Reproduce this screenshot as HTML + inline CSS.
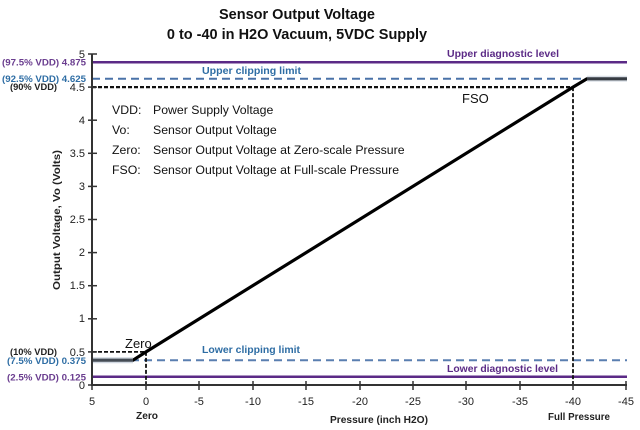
<!DOCTYPE html>
<html><head><meta charset="utf-8"><style>
html,body{margin:0;padding:0;background:#fff;}
svg{display:block;font-family:"Liberation Sans",Arial,sans-serif;}
</style></head><body>
<svg width="640" height="430" viewBox="0 0 640 430" xmlns="http://www.w3.org/2000/svg">
<rect width="640" height="430" fill="#fff"/>
<!-- Title -->
<text x="297" y="19" text-anchor="middle" font-size="14.5" font-weight="bold" fill="#111">Sensor Output Voltage</text>
<text x="297" y="39" text-anchor="middle" font-size="14.5" font-weight="bold" fill="#111">0 to -40 in H2O Vacuum,  5VDC Supply</text>

<!-- reference lines -->
<line x1="92" y1="62.3" x2="627" y2="62.3" stroke="#5b2a86" stroke-width="2.5"/>
<line x1="92" y1="78.8" x2="627" y2="78.8" stroke="#4a72a8" stroke-width="2" stroke-dasharray="8,5"/>
<line x1="92" y1="87.1" x2="573" y2="87.1" stroke="#111" stroke-width="2.2" stroke-dasharray="4,2"/>
<line x1="92" y1="360.2" x2="627" y2="360.2" stroke="#5a7fb0" stroke-width="2" stroke-dasharray="8,5"/>
<line x1="92" y1="376.7" x2="627" y2="376.7" stroke="#5b2a86" stroke-width="2.5"/>
<line x1="92" y1="351.9" x2="146" y2="351.9" stroke="#111" stroke-width="1.8" stroke-dasharray="4,2"/>
<line x1="146" y1="351.9" x2="146" y2="385" stroke="#111" stroke-width="1.8" stroke-dasharray="4,2"/>
<line x1="573" y1="87.1" x2="573" y2="385" stroke="#111" stroke-width="1.8" stroke-dasharray="4,2"/>

<!-- main curve -->
<polyline points="92,360.2 133,360.2 146,351.9 573,87.1 587,78.8 627,78.8" fill="none" stroke="#000" stroke-width="3.2" stroke-linejoin="round"/>
<line x1="92" y1="360.2" x2="133" y2="360.2" stroke="#9aa9bd" stroke-width="6" opacity="0.45"/>
<line x1="587" y1="78.8" x2="627" y2="78.8" stroke="#9aa9bd" stroke-width="6" opacity="0.35"/>

<!-- axes -->
<line x1="92" y1="54" x2="92" y2="386" stroke="#333" stroke-width="2"/>
<line x1="91" y1="385" x2="627" y2="385" stroke="#333" stroke-width="2"/>
<g stroke="#333" stroke-width="1.5">
<line x1="88" y1="54" x2="97" y2="54"/>
<line x1="88" y1="87.1" x2="97" y2="87.1"/>
<line x1="88" y1="120.2" x2="97" y2="120.2"/>
<line x1="88" y1="153.3" x2="97" y2="153.3"/>
<line x1="88" y1="186.4" x2="97" y2="186.4"/>
<line x1="88" y1="219.5" x2="97" y2="219.5"/>
<line x1="88" y1="252.6" x2="97" y2="252.6"/>
<line x1="88" y1="285.7" x2="97" y2="285.7"/>
<line x1="88" y1="318.8" x2="97" y2="318.8"/>
<line x1="88" y1="351.9" x2="97" y2="351.9"/>
<line x1="88" y1="385" x2="97" y2="385"/>
<line x1="92" y1="381" x2="92" y2="390"/>
<line x1="146" y1="381" x2="146" y2="390"/>
<line x1="199" y1="381" x2="199" y2="390"/>
<line x1="253" y1="381" x2="253" y2="390"/>
<line x1="306" y1="381" x2="306" y2="390"/>
<line x1="360" y1="381" x2="360" y2="390"/>
<line x1="413" y1="381" x2="413" y2="390"/>
<line x1="466" y1="381" x2="466" y2="390"/>
<line x1="520" y1="381" x2="520" y2="390"/>
<line x1="573" y1="381" x2="573" y2="390"/>
<line x1="626" y1="381" x2="626" y2="390"/>
</g>

<!-- y tick labels -->
<g font-size="11" fill="#222" text-anchor="end">
<text x="85" y="58">5</text>
<text x="85" y="91">4.5</text>
<text x="85" y="124">4</text>
<text x="85" y="157">3.5</text>
<text x="85" y="190">3</text>
<text x="85" y="223">2.5</text>
<text x="85" y="256">2</text>
<text x="85" y="289">1.5</text>
<text x="85" y="322">1</text>
<text x="85" y="356">0.5</text>
<text x="85" y="389">0</text>
</g>
<g font-size="8.8" font-weight="bold">
<text x="2" y="65.5" fill="#6a3d8f" textLength="84" lengthAdjust="spacingAndGlyphs">(97.5% VDD) 4.875</text>
<text x="2" y="81.8" fill="#2e6da4" textLength="84" lengthAdjust="spacingAndGlyphs">(92.5% VDD) 4.625</text>
<text x="10" y="90" fill="#222" textLength="47" lengthAdjust="spacingAndGlyphs">(90% VDD)</text>
<text x="10" y="355" fill="#222" textLength="47" lengthAdjust="spacingAndGlyphs">(10% VDD)</text>
<text x="7" y="364" fill="#2e6da4" textLength="79" lengthAdjust="spacingAndGlyphs">(7.5% VDD) 0.375</text>
<text x="7" y="380.5" fill="#6a3d8f" textLength="79" lengthAdjust="spacingAndGlyphs">(2.5% VDD) 0.125</text>
</g>

<!-- x tick labels -->
<g font-size="11" fill="#222" text-anchor="middle">
<text x="92" y="405">5</text>
<text x="146" y="405">0</text>
<text x="199" y="405">-5</text>
<text x="253" y="405">-10</text>
<text x="306" y="405">-15</text>
<text x="360" y="405">-20</text>
<text x="413" y="405">-25</text>
<text x="466" y="405">-30</text>
<text x="520" y="405">-35</text>
<text x="573" y="405">-40</text>
<text x="626" y="405">-45</text>
</g>
<g font-size="10" font-weight="bold" fill="#222">
<text x="136" y="419" textLength="22" lengthAdjust="spacingAndGlyphs">Zero</text>
<text x="330" y="423" textLength="98" lengthAdjust="spacingAndGlyphs">Pressure (inch H2O)</text>
<text x="548" y="420" textLength="62" lengthAdjust="spacingAndGlyphs">Full Pressure</text>
</g>
<text transform="translate(60,220) rotate(-90)" x="-70" y="0" font-size="10" font-weight="bold" fill="#222" textLength="140" lengthAdjust="spacingAndGlyphs">Output Voltage, Vo (Volts)</text>

<!-- line labels -->
<g font-size="10.5" font-weight="bold">
<text x="447" y="57" fill="#5b2a86" textLength="112" lengthAdjust="spacingAndGlyphs">Upper diagnostic level</text>
<text x="202" y="74" fill="#2e6da4" textLength="99" lengthAdjust="spacingAndGlyphs">Upper clipping limit</text>
<text x="202" y="353" fill="#2e6da4" textLength="98" lengthAdjust="spacingAndGlyphs">Lower clipping limit</text>
<text x="447" y="372" fill="#5b2a86" textLength="111" lengthAdjust="spacingAndGlyphs">Lower diagnostic level</text>
</g>

<!-- legend text -->
<g font-size="12.3" fill="#111">
<text x="112" y="114">VDD:</text><text x="153" y="114">Power Supply Voltage</text>
<text x="112" y="134">Vo:</text><text x="153" y="134">Sensor Output Voltage</text>
<text x="112" y="154">Zero:</text><text x="153" y="154">Sensor Output Voltage at Zero-scale Pressure</text>
<text x="112" y="174">FSO:</text><text x="153" y="174">Sensor Output Voltage at Full-scale Pressure</text>
</g>
<text x="462" y="103" font-size="13" fill="#111">FSO</text>
<text x="125" y="348" font-size="13" fill="#111">Zero</text>
</svg>
</body></html>
